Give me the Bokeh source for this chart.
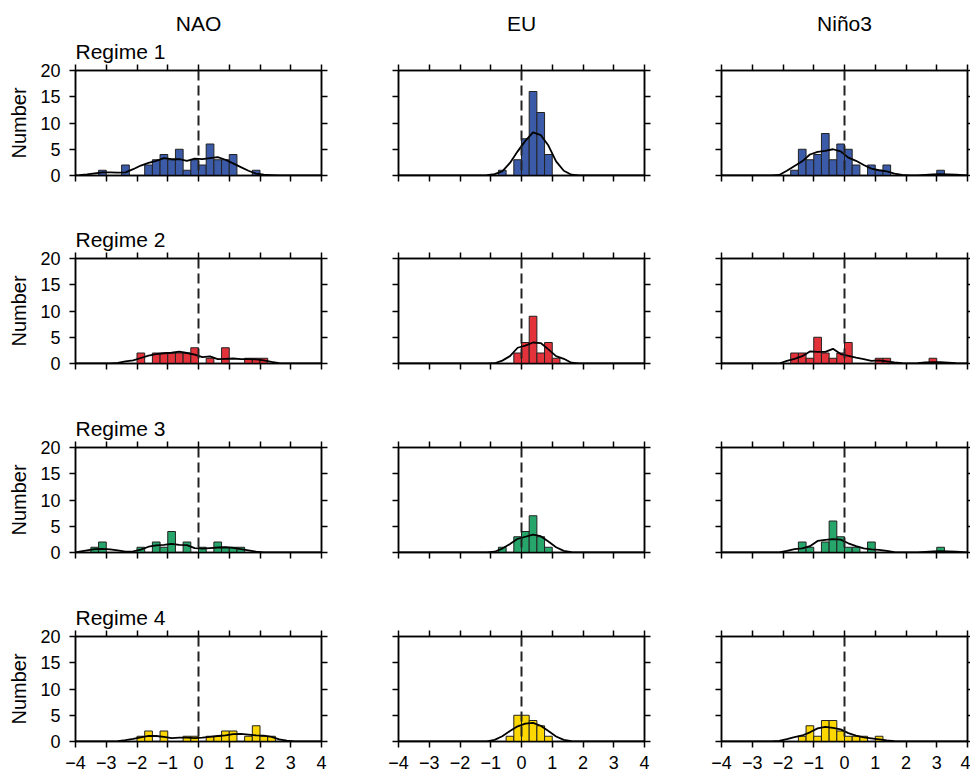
import numpy as np
from bokeh.plotting import figure
from bokeh.models import LinearAxis, FixedTicker, Title, Span, ColumnDataSource, Range1d
from bokeh.layouts import column, row
from bokeh.embed import file_html
from bokeh.resources import INLINE

# ---------------- data ----------------
column_names = ["NAO", "EU", "Niño3"]
regime_names = ["Regime 1", "Regime 2", "Regime 3", "Regime 4"]
regime_colors = ["#3b5ba8", "#e4323b", "#27a66b", "#fdd700"]
x_ticks = [-4, -3, -2, -1, 0, 1, 2, 3, 4]
y_ticks = [0, 5, 10, 15, 20]
bin_width = 0.25
x_min, x_max = -4.0, 4.0

# histogram counts, 32 bins of width 0.25 from -4 to 4
nao_r1 = [0,0,0,1,0,0,2,0,0,2,3,4,3,5,1,3,2,6,3,3,4,0,0,1,0,0,0,0,0,0,0,0]
eu_r1 = [0,0,0,0,0,0,0,0,0,0,0,0,0,1,0,3,7,16,12,4,0,0,0,0,0,0,0,0,0,0,0,0]
nino_r1 = [0,0,0,0,0,0,0,0,0,1,5,3,4,8,3,6,5,2,0,2,1,2,0,0,0,0,0,0,1,0,0,0]
nao_r2 = [0,0,0,0,0,0,0,0,2,0,2,2,2,2,2,3,0,1,0,3,0,0,1,1,1,0,0,0,0,0,0,0]
eu_r2 = [0,0,0,0,0,0,0,0,0,0,0,0,0,0,0,2,4,9,2,4,1,0,0,0,0,0,0,0,0,0,0,0]
nino_r2 = [0,0,0,0,0,0,0,0,0,2,2,1,5,2,1,2,4,0,0,0,1,1,0,0,0,0,0,1,0,0,0,0]
nao_r3 = [0,0,1,2,0,0,0,0,1,0,2,1,4,0,2,0,1,0,2,1,1,1,0,0,0,0,0,0,0,0,0,0]
eu_r3 = [0,0,0,0,0,0,0,0,0,0,0,0,0,1,0,3,4,7,3,1,0,0,0,0,0,0,0,0,0,0,0,0]
nino_r3 = [0,0,0,0,0,0,0,0,0,0,2,1,0,2,6,3,1,1,0,2,0,0,0,0,0,0,0,0,1,0,0,0]
nao_r4 = [0,0,0,0,0,0,0,0,1,2,0,2,0,0,1,1,0,1,1,2,2,0,1,3,1,1,0,0,0,0,0,0]
eu_r4 = [0,0,0,0,0,0,0,0,0,0,0,0,0,0,1,5,5,4,3,1,0,0,0,0,0,0,0,0,0,0,0,0]
nino_r4 = [0,0,0,0,0,0,0,0,0,0,1,3,1,4,4,2,1,1,1,0,1,0,0,0,0,0,0,0,0,0,0,0]

# smoothed curves read at the 32 bin centres
nao_r1_c = [0.05,0.2,0.4,0.6,0.6,0.55,0.6,1.2,1.9,2.4,2.8,3.3,3.1,3.1,2.8,3.2,3.1,3.3,3.5,3.0,2.3,1.6,0.9,0.35,0.15,0.08,0,0,0,0,0,0]
eu_r1_c = [0,0,0,0,0,0,0,0,0,0,0,0.05,0.25,0.8,2.4,4.6,6.6,8.2,7.7,5.7,2.7,0.9,0.15,0,0,0,0,0,0,0,0,0]
nino_r1_c = [0,0,0,0,0,0,0,0.1,0.9,1.8,2.7,4.0,4.5,4.7,5.0,4.6,3.4,2.8,2.0,1.3,1.0,0.8,0.35,0.1,0,0,0.1,0.2,0.25,0.2,0.15,0.05]
nao_r2_c = [0,0,0,0,0,0.1,0.4,0.6,1.05,1.5,1.8,1.95,2.05,2.25,2.0,1.7,1.2,1.35,0.85,0.9,0.95,0.85,0.85,0.8,0.6,0.3,0.08,0,0,0,0,0]
eu_r2_c = [0,0,0,0,0,0,0,0,0,0,0,0,0.05,0.55,1.4,3.0,3.4,4.0,3.9,2.7,1.4,0.9,0.15,0,0,0,0,0,0,0,0,0]
nino_r2_c = [0,0,0,0,0,0,0,0,0.5,0.9,1.4,2.3,2.2,2.2,2.8,1.8,1.45,1.1,0.85,0.5,0.6,0.4,0.2,0.05,0.02,0.08,0.2,0.25,0.25,0.15,0.05,0]
nao_r3_c = [0.15,0.4,0.65,0.7,0.6,0.4,0.15,0.2,0.55,1.1,1.35,1.45,1.65,1.45,1.4,0.85,0.75,0.85,0.95,1.0,0.9,0.65,0.4,0.15,0.03,0,0,0,0,0,0,0]
eu_r3_c = [0,0,0,0,0,0,0,0,0,0,0,0,0.15,0.75,1.6,2.6,3.0,3.4,3.1,2.1,1.0,0.3,0.05,0,0,0,0,0,0,0,0,0]
nino_r3_c = [0,0,0,0,0,0,0,0,0.3,0.65,0.8,1.2,2.2,2.4,2.55,2.45,1.75,1.2,0.8,0.6,0.5,0.3,0.05,0,0,0,0.12,0.2,0.25,0.22,0.15,0.05]
nao_r4_c = [0,0,0,0,0,0.05,0.25,0.5,0.8,1.05,1.05,0.9,0.65,0.75,0.75,0.65,0.72,0.9,1.05,1.15,1.4,1.45,1.3,1.15,1.1,0.9,0.4,0.15,0,0,0,0]
eu_r4_c = [0,0,0,0,0,0,0,0,0,0,0,0,0.3,1.0,2.0,2.9,3.4,3.55,3.0,2.0,0.95,0.3,0.05,0,0,0,0,0,0,0,0,0]
nino_r4_c = [0,0,0,0,0,0,0,0.1,0.45,0.85,1.15,1.75,2.5,2.8,2.6,2.3,1.6,1.1,0.8,0.6,0.4,0.2,0.05,0,0,0,0,0,0,0,0,0]

counts = [[nao_r1, eu_r1, nino_r1],
          [nao_r2, eu_r2, nino_r2],
          [nao_r3, eu_r3, nino_r3],
          [nao_r4, eu_r4, nino_r4]]
curves = [[nao_r1_c, eu_r1_c, nino_r1_c],
          [nao_r2_c, eu_r2_c, nino_r2_c],
          [nao_r3_c, eu_r3_c, nino_r3_c],
          [nao_r4_c, eu_r4_c, nino_r4_c]]

# ---------------- layout ----------------
FONT = "Liberation Sans"
FRAME_W, FRAME_H = 246, 105
left_b = [75, 38, 38]
right_b = [39, 39, 3]
top_b = [70, 71, 72, 72]
bot_b = [12, 12, 12, 35]

edges = x_min + bin_width * np.arange(len(nao_r1))
centers = edges + bin_width / 2


def style_axis(ax, ticks, show_labels, tick_out=6, standoff=9):
    ax.ticker = FixedTicker(ticks=ticks)
    ax.major_tick_out = tick_out
    ax.major_tick_in = 0
    ax.minor_tick_out = 0
    ax.minor_tick_in = 0
    ax.axis_line_color = "black"
    ax.axis_line_width = 1.5
    ax.major_tick_line_color = "black"
    ax.major_tick_line_width = 1.5
    if show_labels:
        ax.major_label_text_font = FONT
        ax.major_label_text_font_size = "18px"
        ax.major_label_text_color = "black"
        ax.major_label_standoff = standoff
    else:
        ax.major_label_text_font_size = "0px"
        ax.major_label_standoff = 0
        ax.major_label_text_color = None


def make_title(text, align, standoff):
    return Title(text=text, align=align, text_font=FONT, text_font_size="21px",
                 text_font_style="normal", text_color="black", standoff=standoff)


rows = []
for r in range(4):
    figs = []
    for c in range(3):
        p = figure(frame_width=FRAME_W, frame_height=FRAME_H,
                   x_range=Range1d(x_min, x_max), y_range=Range1d(0, 20),
                   output_backend="svg", toolbar_location=None,
                   min_border_left=left_b[c], min_border_right=right_b[c],
                   min_border_top=top_b[r], min_border_bottom=bot_b[r])
        p.grid.visible = False
        p.outline_line_color = "black"
        p.outline_line_width = 1.5
        p.background_fill_color = "white"
        p.border_fill_color = "white"

        style_axis(p.xaxis[0], x_ticks, r == 3, standoff=8)
        style_axis(p.yaxis[0], y_ticks, c == 0)
        if c == 0:
            p.yaxis[0].axis_label = "Number"
            p.yaxis[0].axis_label_text_font = FONT
            p.yaxis[0].axis_label_text_font_size = "20px"
            p.yaxis[0].axis_label_text_font_style = "normal"
            p.yaxis[0].axis_label_text_color = "black"
            p.yaxis[0].axis_label_standoff = 7
        top_ax = LinearAxis()
        style_axis(top_ax, x_ticks, False)
        p.add_layout(top_ax, "above")
        right_ax = LinearAxis()
        style_axis(right_ax, y_ticks, False, tick_out=3 if c == 2 else 6)
        p.add_layout(right_ax, "right")

        # titles: regime label (left column) and column header (top row)
        if c == 0:
            p.add_layout(make_title(regime_names[r], "left", 4), "above")
        elif r == 0:
            p.add_layout(make_title(" ", "left", 4), "above")
        if r == 0:
            p.add_layout(make_title(column_names[c], "center", 2), "above")

        cnt = np.array(counts[r][c], dtype=float)
        nz = cnt > 0
        src = ColumnDataSource(dict(left=edges[nz], right=edges[nz] + bin_width, top=cnt[nz]))
        p.quad(left="left", right="right", top="top", bottom=0, source=src,
               fill_color=regime_colors[r], line_color="#222222", line_width=1)

        cx = np.concatenate([[x_min], centers, [x_max]])
        cy = np.concatenate([[0.0], np.array(curves[r][c], dtype=float), [0.0]])
        p.line(cx, cy, line_color="black", line_width=1.8)

        p.add_layout(Span(location=0, dimension="height", line_color="#222222",
                          line_width=2, line_dash="10 5"))
        figs.append(p)
    rows.append(row(*figs, spacing=0))

layout = column(*rows, spacing=0)
open("out.html", "w").write(file_html(layout, INLINE))
